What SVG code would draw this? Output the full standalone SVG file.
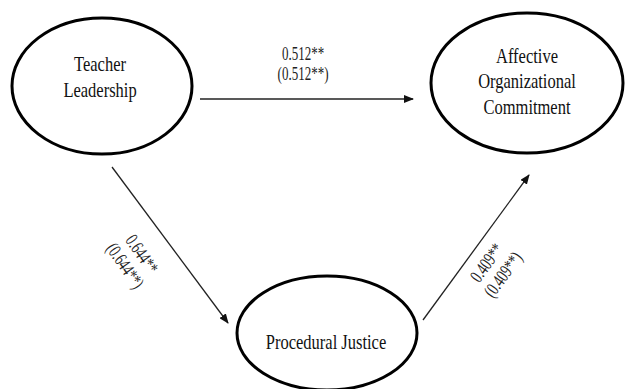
<svg xmlns="http://www.w3.org/2000/svg" width="625" height="389" viewBox="0 0 625 389">
<style>
.node{fill:#fff;stroke:#000;stroke-width:3}
.nt{font-family:"Liberation Serif","Times New Roman",serif;font-size:16.5px;fill:#111;text-anchor:middle}
.lt{font-family:"Liberation Serif","Times New Roman",serif;font-size:13px;fill:#222;text-anchor:middle}
.edge{stroke:#222;stroke-width:1.3;fill:none;marker-end:url(#ah)}
</style>
<defs>
<marker id="ah" viewBox="0 0 10 8" refX="9" refY="4" markerWidth="10" markerHeight="8" markerUnits="userSpaceOnUse" orient="auto">
<path d="M0,0 L10,4 L0,8 Z" fill="#111"/>
</marker>
</defs>
<rect width="625" height="389" fill="#fff"/>
<g id="connectors">
<line class="edge" x1="200" y1="99" x2="413" y2="99"/>
<line class="edge" x1="112" y1="167" x2="228" y2="323"/>
<line class="edge" x1="423" y1="320" x2="529" y2="175"/>
<g transform="translate(303,0)">
<text class="lt" transform="translate(0,60) scale(1,1.45)">0.512**</text>
<text class="lt" transform="translate(0,80) scale(1,1.45)">(0.512**)</text>
</g>
<g transform="translate(142,254) rotate(55) scale(1,1.45)">
<text class="lt" x="0" y="4.4">0.644**</text>
<text class="lt" x="0" y="18.4">(0.644**)</text>
</g>
<g transform="translate(494,268) rotate(-54) scale(1,1.45)">
<text class="lt" x="0" y="-2">0.409**</text>
<text class="lt" x="0" y="12">(0.409**)</text>
</g>
</g>
<g id="teacher-leadership">
<ellipse class="node" cx="102" cy="86" rx="90" ry="68"/>
<text class="nt" transform="translate(100,70.7) scale(1,1.28)">Teacher</text>
<text class="nt" transform="translate(100,97) scale(1,1.28)">Leadership</text>
</g>
<g id="affective-organizational-commitment">
<ellipse class="node" cx="527" cy="83" rx="96" ry="70"/>
<text class="nt" transform="translate(527,63.3) scale(1,1.28)">Affective</text>
<text class="nt" transform="translate(527,88) scale(1,1.28)">Organizational</text>
<text class="nt" transform="translate(527,114) scale(1,1.28)">Commitment</text>
</g>
<g id="procedural-justice">
<ellipse class="node" cx="327" cy="333" rx="90" ry="57"/>
<text class="nt" transform="translate(326,349) scale(1,1.28)">Procedural Justice</text>
</g>
</svg>
